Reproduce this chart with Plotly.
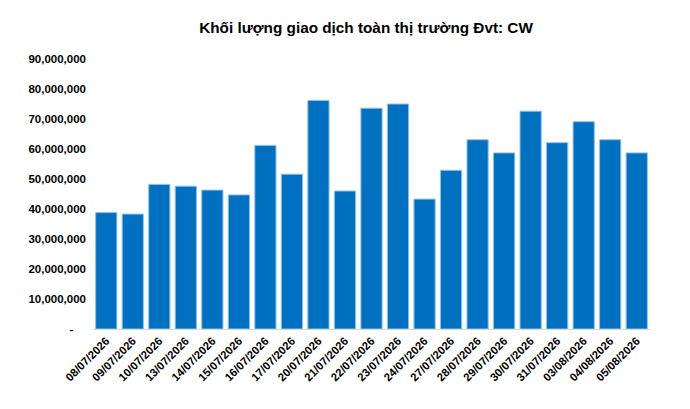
import plotly.graph_objects as go

dates = ["08/07/2026", "09/07/2026", "10/07/2026", "13/07/2026", "14/07/2026",
         "15/07/2026", "16/07/2026", "17/07/2026", "20/07/2026", "21/07/2026",
         "22/07/2026", "23/07/2026", "24/07/2026", "27/07/2026", "28/07/2026",
         "29/07/2026", "30/07/2026", "31/07/2026", "03/08/2026", "04/08/2026",
         "05/08/2026"]
volumes = [38.8e6, 38.3e6, 48.2e6, 47.6e6, 46.3e6,
           44.7e6, 61.2e6, 51.6e6, 76.2e6, 46.0e6,
           73.6e6, 75.0e6, 43.3e6, 52.9e6, 63.1e6,
           58.7e6, 72.6e6, 62.1e6, 69.1e6, 63.1e6,
           58.7e6]
ytick_vals = [0, 10e6, 20e6, 30e6, 40e6, 50e6, 60e6, 70e6, 80e6, 90e6]
ytick_text = ["-&nbsp;&nbsp;&nbsp;&nbsp;", "10,000,000", "20,000,000", "30,000,000", "40,000,000",
              "50,000,000", "60,000,000", "70,000,000", "80,000,000", "90,000,000"]
title_text = "Khối lượng giao dịch toàn thị trường Đvt: CW"

fig = go.Figure(go.Bar(
    x=dates, y=volumes,
    marker=dict(color="#0070C0", line=dict(color="#8FC1EA", width=1)),
))

fig.update_layout(
    width=682, height=401,
    margin=dict(l=85, r=40, t=51, b=80),
    paper_bgcolor="white", plot_bgcolor="white",
    bargap=0.2,
    showlegend=False,
    font=dict(family="Liberation Sans, Arial, sans-serif", color="black"),
    title=dict(text="<b>" + title_text + "</b>", x=358 / 682, xanchor="center",
               y=1 - 20 / 401, yanchor="middle",
               font=dict(size=15.3, color="black")),
)
fig.update_xaxes(
    type="category", tickangle=-45, showgrid=False,
    showline=True, linecolor="#D9D9D9", linewidth=1,
    ticks="", tickfont=dict(size=11.3, family="Liberation Sans, Arial, sans-serif", weight="bold"),
)
fig.update_yaxes(
    range=[0, 90e6], tickvals=ytick_vals, ticktext=ytick_text,
    showgrid=False, zeroline=False, showline=False, ticks="",
    ticklabelstandoff=6,
    tickfont=dict(size=11.5, family="Liberation Sans, Arial, sans-serif", weight="bold"),
)

fig.write_html("out.html")
